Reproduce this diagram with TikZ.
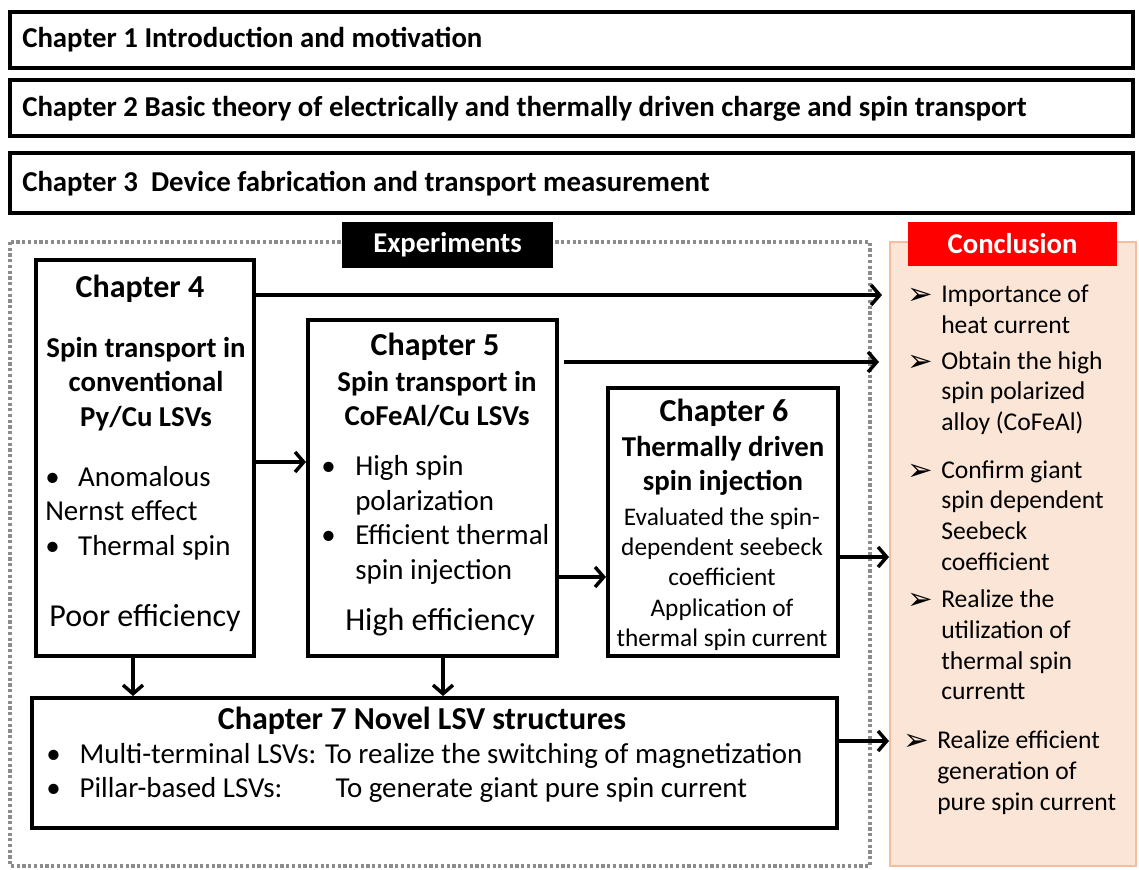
\documentclass[tikz,border=0pt]{standalone}
\usepackage{fontspec}
\setmainfont{Carlito}
\newfontfamily\symfont{DejaVu Sans}
\usetikzlibrary{arrows.meta,positioning,calc,fit}
\definecolor{peach}{RGB}{251,229,214}
\definecolor{peachline}{RGB}{244,190,158}
\definecolor{dotgray}{RGB}{140,140,140}
\newcommand{\cbul}{\makebox[25.5pt][l]{\smash{\raisebox{-1.5pt}{\symfont\fontsize{23}{23}\selectfont\char"27A2}}}}
\newcommand{\bbul}[1]{\makebox[#1][l]{\textbullet}}

\begin{document}
\begin{tikzpicture}[x=0.75pt,y=-0.75pt,
  box/.style={draw, line width=3pt, inner sep=0pt},
  flow/.style={line width=3pt, -{Straight Barb[length=6.5pt,width=15pt,line width=2.6pt]}},
  toptxt/.style={anchor=mid west, inner sep=0pt, font=\fontsize{21.6}{26}\selectfont\bfseries},
  chead/.style={inner sep=0pt, font=\fontsize{24}{28}\selectfont\bfseries},
  csub/.style={inner sep=0pt, align=center, font=\fontsize{21.6}{25.8}\selectfont\bfseries},
  cbody/.style={anchor=west, inner sep=0pt, align=left, font=\fontsize{21.7}{25.9}\selectfont},
  ceff/.style={inner sep=0pt, font=\fontsize{24}{28}\selectfont},
  csmall/.style={inner sep=0pt, align=center, font=\fontsize{19}{22.7}\selectfont},
  conc/.style={anchor=west, inner sep=0pt, align=left, font=\fontsize{19.2}{23}\selectfont},
  tag/.style={inner sep=0pt, text=white, font=\fontsize{21.5}{25}\selectfont\bfseries}]
\useasboundingbox (0,0) rectangle (1139,869);

% top chapters
\node[box, fit={(10,12) (1133,68)}] (ch1) {};
\node[toptxt] (ch1t) at (22,44) {Chapter 1 Introduction and motivation};
\node[box, fit={(10,80) (1133,136)}] (ch2) {};
\node[toptxt] (ch2t) at (22,113) {Chapter 2 Basic theory of electrically and thermally driven charge and spin transport};
\node[box, fit={(10,153) (1133,213)}] (ch3) {};
\node[toptxt] (ch3t) at (22,188) {Chapter 3\ \ Device fabrication and transport measurement};

% experiments frame
\draw[dotgray, line width=2.4pt, dash pattern=on 2.4pt off 1.9pt] (10,242) rectangle (870,866);
\node[fill=black, inner sep=0pt, fit={(342,222) (553,268)}] (expbox) {};
\node[tag] (expt) at (expbox.center) {Experiments};

% conclusion panel
\node[draw=peachline, fill=peach, line width=1.5pt, inner sep=0pt, fit={(890,242) (1136,866)}] (concl) {};
\node[fill=red, inner sep=0pt, fit={(908,222) (1117,266)}] (conbox) {};
\node[tag] (cont) at (conbox.center) {Conclusion};

% chapter 4
\node[box, fit={(36,260) (254,656)}] (ch4) {};
\node[chead] (ch4t) at (140,289) {Chapter 4};
\node[csub] (ch4s) at (146,384) {Spin transport in\\conventional\\Py/Cu LSVs};
\node[cbody] (ch4b) at (45,513) {\bbul{24.7pt}Anomalous\\Nernst effect\\\bbul{24.7pt}Thermal spin};
\node[ceff] (ch4e) at (145,618) {Poor efficiency};

% chapter 5
\node[box, fit={(308,320) (557,656)}] (ch5) {};
\node[chead] (ch5t) at (435,347) {Chapter 5};
\node[csub] (ch5s) at (437,399) {Spin transport in\\CoFeAl/Cu LSVs};
\node[cbody] (ch5b) at (321,520) {\bbul{25.5pt}High spin\\\hspace*{25.5pt}polarization\\\bbul{25.5pt}Efficient thermal\\\hspace*{25.5pt}spin injection};
\node[ceff] (ch5e) at (440,622) {High efficiency};

% chapter 6
\node[box, fit={(608,388) (838,656)}] (ch6) {};
\node[chead] (ch6t) at (724,413) {Chapter 6};
\node[csub] (ch6s) at (723,466) {Thermally driven\\spin injection};
\node[csmall] (ch6b) at (722,579) {Evaluated the spin-\\dependent seebeck\\coefficient\\Application of\\thermal spin current};

% chapter 7
\node[box, fit={(32,698) (837,828)}] (ch7) {};
\node[chead] (ch7t) at (422,721) {Chapter 7 Novel LSV structures};
\node[cbody] (ch7b) at (46,773) {\bbul{25pt}Multi-terminal LSVs: To realize the switching of magnetization\\\bbul{25pt}\makebox[192pt][l]{Pillar-based LSVs:}To generate giant pure spin current};

% conclusion items
\node[conc] (k1) at (907,309.5) {\cbul Importance of\\\hspace*{25.5pt}heat current};
\node[conc] (k2) at (907,393) {\cbul Obtain the high\\\hspace*{25.5pt}spin polarized\\\hspace*{25.5pt}alloy (CoFeAl)};
\node[conc] (k3) at (907,515.5) {\cbul Confirm giant\\\hspace*{25.5pt}spin dependent\\\hspace*{25.5pt}Seebeck\\\hspace*{25.5pt}coefficient};
\node[conc] (k4) at (907,645) {\cbul Realize the\\\hspace*{25.5pt}utilization of\\\hspace*{25.5pt}thermal spin\\\hspace*{25.5pt}currentt};
\node[conc] (k5) at (903,772.5) {\cbul Realize efficient\\\hspace*{25.5pt}generation of\\\hspace*{25.5pt}pure spin current};

% arrows
\draw[flow, shorten >=5.25pt] (ch4.east |- 0,295) -- (concl.west |- 0,295);
\draw[flow, shorten <=3.5pt, shorten >=7.5pt] (ch5.east |- 0,362) -- (concl.west |- 0,362);
\draw[flow] (ch6.east |- 0,557) -- (concl.west |- 0,557);
\draw[flow] (ch7.east |- 0,741) -- (concl.west |- 0,741);
\draw[flow] (ch4.east |- 0,462) -- (ch5.west |- 0,462);
\draw[flow] (ch5.east |- 0,577) -- (ch6.west |- 0,577);
\draw[flow] (ch4.south -| 133,0) -- (ch7.north -| 133,0);
\draw[flow] (ch5.south -| 443,0) -- (ch7.north -| 443,0);
\end{tikzpicture}
\end{document}
